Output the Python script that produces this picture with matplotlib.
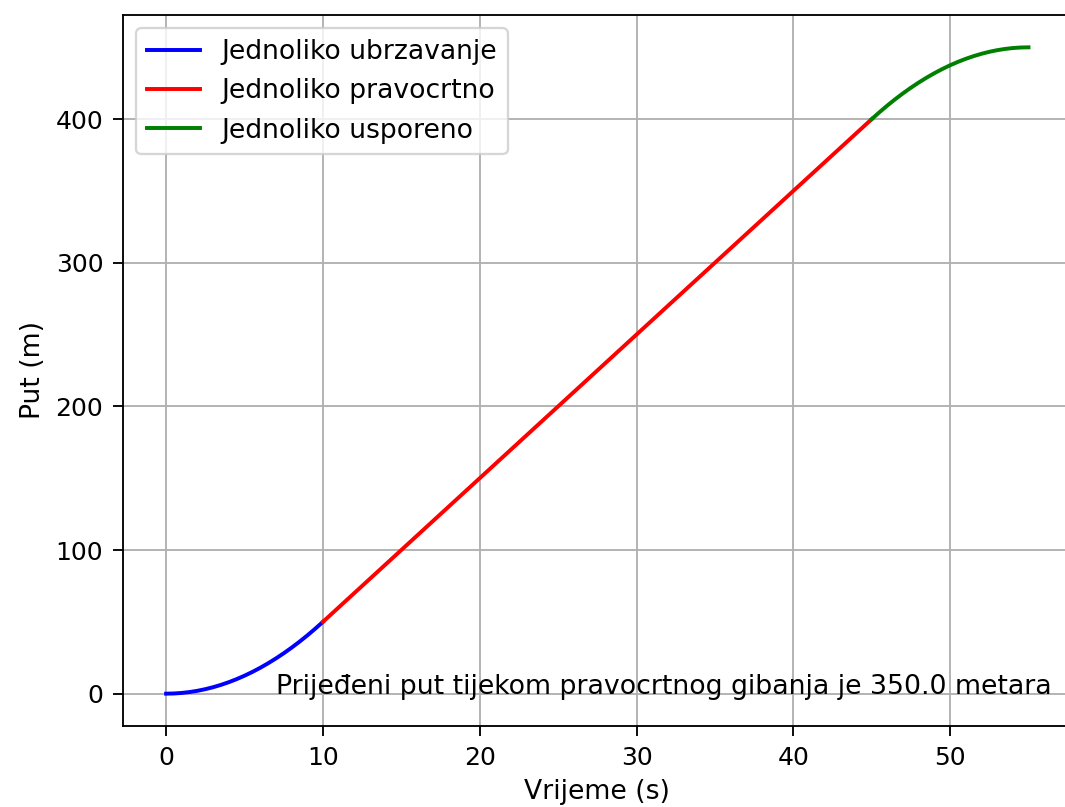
import matplotlib
matplotlib.use("Agg")
import matplotlib.pyplot as plt

# faza 1: jednoliko ubrzavanje (0-10 s)
t_ubrz = [0, 0.5, 1, 1.5, 2, 2.5, 3, 3.5, 4, 4.5, 5, 5.5, 6, 6.5, 7, 7.5, 8, 8.5, 9, 9.5, 10]
s_ubrz = [0, 0.125, 0.5, 1.125, 2, 3.125, 4.5, 6.125, 8, 10.125, 12.5, 15.125, 18,
          21.125, 24.5, 28.125, 32, 36.125, 40.5, 45.125, 50]

# faza 2: jednoliko pravocrtno (10-45 s)
t_prav = [10, 45]
s_prav = [50, 400]

# faza 3: jednoliko usporeno (45-55 s)
t_uspor = [45, 45.5, 46, 46.5, 47, 47.5, 48, 48.5, 49, 49.5, 50, 50.5, 51, 51.5, 52,
           52.5, 53, 53.5, 54, 54.5, 55]
s_uspor = [400, 404.875, 409.5, 413.875, 418, 421.875, 425.5, 428.875, 432, 434.875,
           437.5, 439.875, 442, 443.875, 445.5, 446.875, 448, 448.875, 449.5, 449.875, 450]

put_pravocrtno = 350.0

dpi = 166.4
fig = plt.figure(figsize=(1065 / dpi, 807 / dpi), dpi=dpi)
ax = fig.add_axes([0.1155, 0.1004, 0.8907, 0.881])

ax.plot(t_ubrz, s_ubrz, color="blue", lw=1.7, label="Jednoliko ubrzavanje")
ax.plot(t_prav, s_prav, color="red", lw=1.7, label="Jednoliko pravocrtno")
ax.plot(t_uspor, s_uspor, color="green", lw=1.7, label="Jednoliko usporeno")

ax.text(7, 0, f"Prijeđeni put tijekom pravocrtnog gibanja je {put_pravocrtno} metara",
        fontsize=11.6)

ax.set_xlabel("Vrijeme (s)", fontsize=11.5)
ax.set_ylabel("Put (m)", fontsize=11.5)
ax.tick_params(labelsize=10.8, length=4.5, pad=4)
ax.grid(True)
ax.legend(loc="upper left", fontsize=11.5)

fig.savefig("out.png", dpi=dpi)
